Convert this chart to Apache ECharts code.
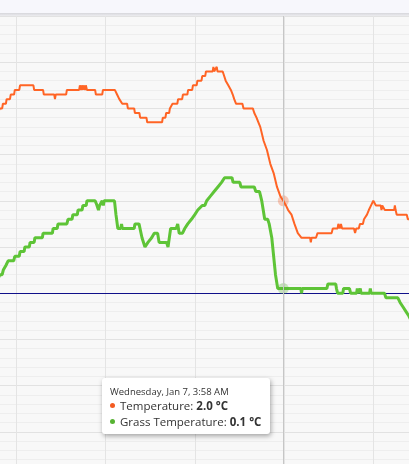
<!DOCTYPE html>
<html>
<head>
<meta charset="utf-8">
<script src="https://cdn.jsdelivr.net/npm/echarts@6/dist/echarts.min.js"></script>
<style>
html,body{margin:0;padding:0;background:#f8f8f8;}
#chart{width:409px;height:464px;}
</style>
</head>
<body>
<div id="chart"></div>
<script>
// Times are "day HH:MM" in January (6 = Jan 6, 7 = Jan 7)
const tempTimes = [
'6 15:10','6 15:16','6 15:22','6 15:24','6 15:32','6 15:34','6 15:43','6 15:45','6 15:54','6 15:56',
'6 16:08','6 16:10','6 16:46','6 16:48','6 17:12','6 17:14','6 17:42','6 17:44','6 17:46','6 18:14',
'6 18:16','6 18:49','6 18:51','6 18:54','6 18:56','6 18:59','6 19:01','6 19:05','6 19:07','6 19:10',
'6 19:32','6 19:34','6 19:51','6 19:53','6 20:25','6 20:31','6 20:37','6 20:41','6 20:45','6 20:58',
'6 21:00','6 21:17','6 21:19','6 21:31','6 21:33','6 21:50','6 21:52','6 22:32','6 22:34','6 22:41',
'6 22:43','6 22:51','6 22:53','6 22:58','6 23:00','6 23:13','6 23:15','6 23:26','6 23:28','6 23:40',
'6 23:42','6 23:53','6 23:55','7 00:05','7 00:07','7 00:18','7 00:20','7 00:28','7 00:30','7 00:48',
'7 00:50','7 00:52','7 00:57','7 00:59','7 01:01','7 01:15','7 01:19','7 01:23','7 01:27','7 01:30',
'7 01:37','7 01:42','7 01:46','7 01:51','7 02:08','7 02:11','7 02:36','7 02:40','7 02:46','7 02:51',
'7 02:56','7 03:05','7 03:14','7 03:23','7 03:32','7 03:41','7 03:50','7 03:58','7 04:05','7 04:11',
'7 04:20','7 04:28','7 04:37','7 04:47','7 05:10','7 05:12','7 05:14','7 05:26','7 05:30','7 06:08',
'7 06:11','7 06:24','7 06:26','7 06:30','7 06:33','7 06:36','7 07:08','7 07:11','7 07:14','7 07:21',
'7 07:24','7 07:32','7 07:35','7 07:43','7 07:48','7 07:54','7 07:58','7 08:00','7 08:05','7 08:07',
'7 08:20','7 08:22','7 08:24','7 08:29','7 08:31','7 08:56','7 08:58','7 09:00','7 09:03','7 09:30',
'7 09:33','7 09:40'
];
const tempValues = [
3.9,4.0,4.0,4.1,4.1,4.2,4.2,4.3,4.3,4.4,
4.4,4.5,4.5,4.4,4.4,4.3,4.3,4.2,4.3,4.3,
4.4,4.4,4.5,4.4,4.5,4.4,4.5,4.4,4.5,4.4,
4.4,4.3,4.3,4.4,4.4,4.3,4.2,4.2,4.1,4.1,
4.0,4.0,3.9,3.9,3.8,3.8,3.7,3.7,3.8,3.8,
3.9,3.9,4.0,4.0,4.1,4.1,4.2,4.2,4.3,4.3,
4.4,4.4,4.5,4.5,4.6,4.6,4.7,4.7,4.8,4.8,
4.9,4.8,4.8,4.9,4.8,4.8,4.7,4.6,4.6,4.5,
4.4,4.3,4.2,4.1,4.1,4.0,4.0,3.9,3.8,3.7,
3.6,3.3,3.1,2.8,2.6,2.3,2.1,2.0,1.9,1.8,
1.7,1.5,1.3,1.2,1.2,1.1,1.2,1.2,1.3,1.3,
1.4,1.4,1.5,1.4,1.5,1.4,1.4,1.3,1.4,1.4,
1.5,1.5,1.6,1.7,1.8,1.9,1.9,2.0,2.0,1.9,
1.9,1.8,1.9,1.9,1.8,1.8,1.9,1.8,1.7,1.7,
1.6,1.6
];
const grassTimes = [
'6 15:10','6 15:16','6 15:22','6 15:25','6 15:32','6 15:38','6 15:53','6 15:56','6 16:08','6 16:10',
'6 16:21','6 16:23','6 16:35','6 16:37','6 16:48','6 16:50','6 17:10','6 17:12','6 17:37','6 17:39',
'6 17:50','6 17:52','6 18:16','6 18:19','6 18:30','6 18:32','6 18:44','6 18:46','6 18:57','6 18:59',
'6 19:08','6 19:10','6 19:32','6 19:37','6 19:41','6 19:44','6 19:48','6 19:51','6 19:54','6 19:56',
'6 20:24','6 20:28','6 20:33','6 20:41','6 20:43','6 20:45','6 21:17','6 21:19','6 21:30','6 21:38',
'6 21:46','6 21:54','6 22:04','6 22:11','6 22:20','6 22:24','6 22:44','6 22:48','6 22:55','6 23:10',
'6 23:14','6 23:18','6 23:27','6 23:33','6 23:41','6 23:51','7 00:00','7 00:08','7 00:20','7 00:27',
'7 00:32','7 00:42','7 00:52','7 01:02','7 01:12','7 01:20','7 01:40','7 01:43','7 02:01','7 02:04',
'7 02:40','7 02:44','7 02:54','7 02:57','7 03:00','7 03:04','7 03:08','7 03:16','7 03:20','7 03:23',
'7 03:27','7 03:32','7 03:37','7 03:43','7 03:58','7 04:45','7 04:47','7 04:49','7 05:55','7 05:58',
'7 06:19','7 06:21','7 06:24','7 06:38','7 06:40','7 06:56','7 06:59','7 07:15','7 07:17','7 07:19',
'7 07:23','7 07:25','7 07:27','7 07:50','7 07:52','7 07:54','7 08:30','7 08:34','7 09:06','7 09:12',
'7 09:20','7 09:28','7 09:36','7 09:42'
];
const grassValues = [
0.3,0.4,0.4,0.5,0.6,0.7,0.7,0.8,0.8,0.9,
0.9,1.0,1.0,1.1,1.1,1.2,1.2,1.3,1.3,1.4,
1.4,1.5,1.5,1.6,1.6,1.7,1.7,1.8,1.8,1.9,
1.9,2.0,2.0,1.9,1.8,1.9,1.9,2.0,1.9,2.0,
2.0,1.7,1.4,1.4,1.5,1.4,1.4,1.5,1.5,1.2,
1.0,1.1,1.2,1.3,1.3,1.1,1.1,1.0,1.4,1.4,
1.5,1.3,1.3,1.4,1.5,1.6,1.7,1.8,1.9,1.9,
2.0,2.1,2.2,2.3,2.4,2.5,2.5,2.4,2.4,2.3,
2.3,2.2,2.2,2.1,2.0,1.8,1.6,1.6,1.5,1.5,
1.2,0.8,0.4,0.1,0.1,0.1,0.0,0.1,0.1,0.2,
0.2,0.1,0.0,0.0,0.1,0.1,0.0,0.0,0.1,0.0,
0.0,0.1,0.0,0.0,0.1,0.0,0.0,-0.1,-0.1,-0.2,
-0.3,-0.4,-0.5,-0.6
];
const seriesNames = ['Temperature', 'Grass Temperature'];
const tooltipTime = '7 03:58';

function toHours(s){
  const [d, hm] = s.split(' ');
  const [h, m] = hm.split(':').map(Number);
  return (Number(d) - 6) * 24 + h + m / 60; // hours since Jan 6 00:00
}
function pairs(times, vals){ return times.map((t,i)=>[toHours(t), vals[i]]); }

const WEEKDAYS = ['Sunday','Monday','Tuesday','Wednesday','Thursday','Friday','Saturday'];
function fmtHeader(hours){
  const totalMin = Math.round(hours * 60);
  const dayOff = Math.floor(totalMin / 1440);
  const minOfDay = totalMin - dayOff * 1440;
  const day = 6 + dayOff;
  const wd = WEEKDAYS[(2 + dayOff) % 7]; // Jan 6 2026 is a Tuesday
  let h = Math.floor(minOfDay / 60); const m = minOfDay % 60;
  const ap = h >= 12 ? 'PM' : 'AM';
  let h12 = h % 12; if (h12 === 0) h12 = 12;
  return wd + ', Jan ' + day + ', ' + h12 + ':' + String(m).padStart(2,'0') + ' ' + ap;
}

const COLORS = ['#f35b22', '#56b332'];
const FONT = "'Open Sans', 'Noto Sans', sans-serif";

const chart = echarts.init(document.getElementById('chart'), null, {renderer:'canvas'});
const option = {
  animation: false,
  backgroundColor: '#f8f8f8',
  grid: { left: -72.95, top: 16, width: 535.5, height: 462, outerBoundsMode: 'none', containLabel: false },
  xAxis: {
    type: 'value', min: 12, max: 36, interval: 4,
    axisLabel: { show: false }, axisTick: { show: false },
    axisLine: { show: true, onZero: true, lineStyle: { color: '#10108a', width: 1 } },
    splitLine: { show: true, lineStyle: { color: '#e4e4e4', width: 1 } }
  },
  yAxis: {
    type: 'value', min: -4, max: 6, interval: 1,
    axisLabel: { show: false }, axisTick: { show: false }, axisLine: { show: false },
    splitLine: { show: true, lineStyle: { color: '#e2e2e2', width: 1 } },
    minorTick: { show: false, splitNumber: 5 },
    minorSplitLine: { show: true, lineStyle: { color: '#eeeeee', width: 1 } }
  },
  tooltip: {
    trigger: 'axis', showDelay: 0, transitionDuration: 0, alwaysShowContent: true,
    backgroundColor: '#ffffff', borderWidth: 0, borderRadius: 3, padding: 0,
    extraCssText: 'box-shadow:1px 2px 5px rgba(0,0,0,0.35);',
    axisPointer: { type: 'line', animation: false, lineStyle: { color: '#c6c6c6', width: 1, type: 'solid' } },
    position: function(){ return [102, 378]; },
    formatter: function(params){
      let html = '<div style="font-family:' + FONT.replace(/"/g,"'") + ';color:#333;padding:7px 9px 5px 8px;white-space:nowrap;">';
      html += '<div style="font-size:9.5px;line-height:13px;">' + fmtHeader(params[0].value[0]) + '</div>';
      params.forEach(function(p){
        html += '<div style="font-size:11.5px;line-height:15.5px;"><span style="display:inline-block;width:5px;height:5px;border-radius:50%;background:' + p.color + ';margin-right:5px;vertical-align:2px;"></span>' +
          p.seriesName + ': <b>' + p.value[1].toFixed(1) + ' °C</b></div>';
      });
      return html + '</div>';
    }
  },
  graphic: [
    { type: 'rect', z: 100, shape: { x: 0, y: 0, width: 409, height: 13 }, style: { fill: '#f7f7fc' } },
    { type: 'rect', z: 100, shape: { x: 0, y: 13, width: 409, height: 3 },
      style: { fill: new echarts.graphic.LinearGradient(0,0,0,1,[{offset:0,color:'#d6d6db'},{offset:1,color:'#ededf0'}]) } }
  ],
  series: [
    { name: seriesNames[0], type: 'line', data: pairs(tempTimes, tempValues), color: COLORS[0],
      showSymbol: false, symbol: 'circle', symbolSize: 11,
      itemStyle: { color: COLORS[0], opacity: 0.3 },
      lineStyle: { width: 2, color: COLORS[0] },
      emphasis: { scale: false, lineStyle: { width: 2 }, itemStyle: { opacity: 0.3 } } },
    { name: seriesNames[1], type: 'line', data: pairs(grassTimes, grassValues), color: COLORS[1],
      showSymbol: false, symbol: 'circle', symbolSize: 11,
      itemStyle: { color: COLORS[1], opacity: 0.3 },
      lineStyle: { width: 3, color: COLORS[1] },
      emphasis: { scale: false, lineStyle: { width: 3 }, itemStyle: { opacity: 0.3 } } }
  ]
};
chart.setOption(option);
chart.dispatchAction({ type: 'showTip', seriesIndex: 0, dataIndex: tempTimes.indexOf(tooltipTime) });
</script>
</body>
</html>
